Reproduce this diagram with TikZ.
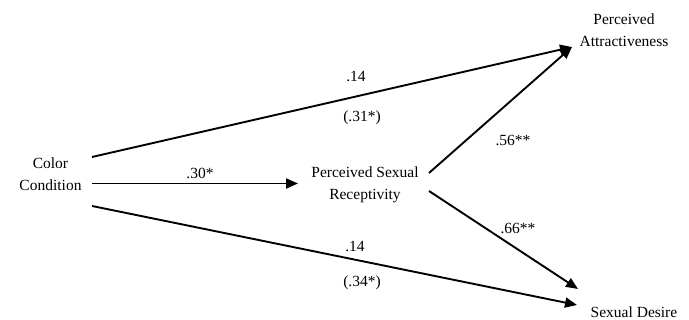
\documentclass[tikz,border=0pt]{standalone}
\usepackage{fontspec}
\setmainfont{Liberation Serif}
\usetikzlibrary{arrows.meta}
\begin{document}
\begin{tikzpicture}[x=1pt,y=1pt,
  var/.style={align=center,font=\fontsize{15.5}{22}\selectfont,inner sep=0pt},
  lbl/.style={font=\fontsize{15.5}{18}\selectfont,inner sep=0pt},
  path/.style={line width=1.9pt,-{Triangle[length=12pt,width=10pt]}},
  plain/.style={line width=1.9pt}]
\useasboundingbox (0,0) rectangle (689,320);
\node[var] (cc) at (50.5,145.5) {Color\\Condition};
\node[var] (psr) at (365,135.5) {Perceived Sexual\\Receptivity};
\node[var] (pa) at (624,290) {Perceived\\Attractiveness};
\node[var] (sd) at (634,8) {Sexual Desire};
\coordinate (ccT) at (92,163);
\coordinate (ccM) at (92,136.5);
\coordinate (ccB) at (92,114);
\coordinate (psrIn) at (298,136.5);
\coordinate (psrT) at (429,147);
\coordinate (psrB) at (429,129);
\coordinate (paIn) at (572,273);
\coordinate (sdInA) at (578,31);
\coordinate (sdInB) at (577,15);
\draw[path] (ccT) -- (paIn);
\draw[path] (ccM) -- (psrIn);
\draw[path] (ccB) -- (sdInB);
\draw[path] (psrT) -- (paIn);
\draw[path] (psrB) -- (sdInA);
\node[lbl] (l1) at (356,243) {.14};
\node[lbl] (l2) at (362,202) {(.31*)};
\node[lbl] (l3) at (200,147) {.30*};
\node[lbl] (l4) at (513,180) {.56**};
\node[lbl] (l5) at (518,92) {.66**};
\node[lbl] (l6) at (355,73) {.14};
\node[lbl] (l7) at (362,37) {(.34*)};
\end{tikzpicture}
\end{document}
